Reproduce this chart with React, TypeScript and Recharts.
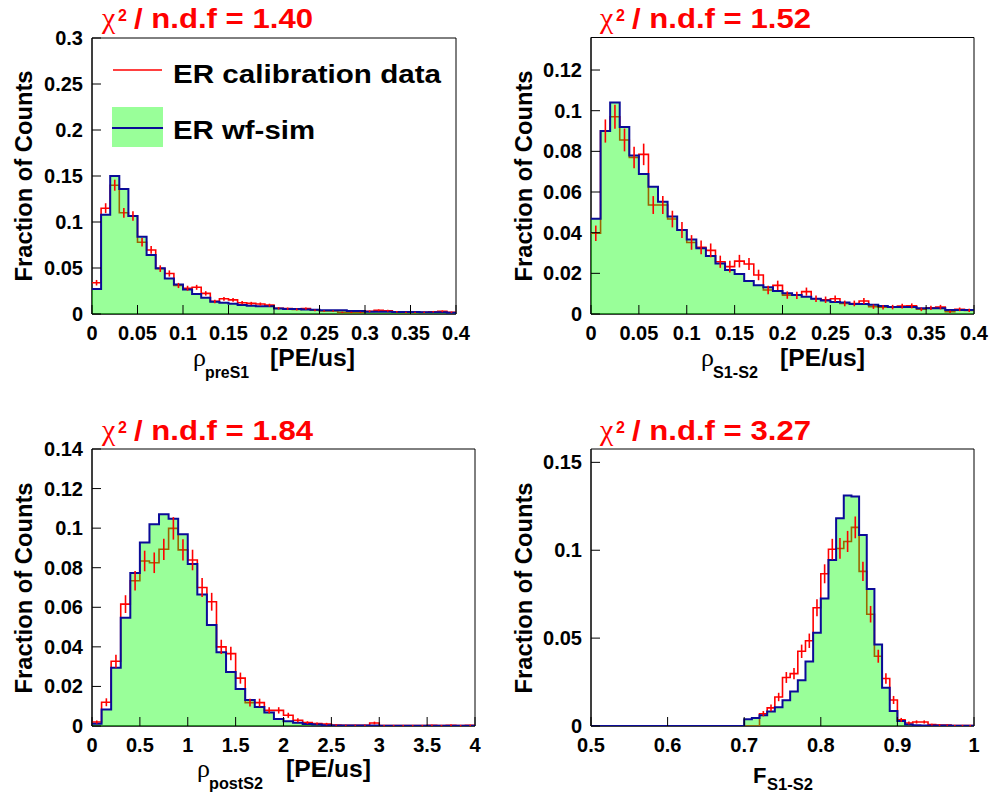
import {
  ComposedChart,
  Area,
  Line,
  Scatter,
  ErrorBar,
  XAxis,
  YAxis,
  ReferenceArea,
} from "recharts";

const FONT = "'Liberation Sans', Arial, Helvetica, sans-serif";
const SERIF = "'Liberation Serif', 'Times New Roman', serif";
const RED = "#ff0000";
const BLUE = "#0b0b98";
const GREEN = "#00ff00";

// rho_preS1: 40 bins, 0 - 0.4 PE/us
const preS1Data = [
  0.034, 0.115, 0.14, 0.11, 0.1065, 0.078, 0.0696, 0.0493, 0.044, 0.031,
  0.028, 0.029, 0.0224, 0.0137, 0.0165, 0.0154, 0.0123, 0.0115, 0.0108, 0.0096,
  0.0062, 0.0058, 0.005, 0.0058, 0.004, 0.0033, 0.0033, 0.0018, 0.0018, 0.0018,
  0.0029, 0.004, 0.0036, 0.0025, 0.0018, 0.0018, 0.0018, 0.0025, 0.0029, 0.0018,
];
const preS1Err = [
  0.003, 0.0054, 0.006, 0.0053, 0.0052, 0.0045, 0.0042, 0.0036, 0.0034, 0.0028,
  0.0027, 0.0027, 0.0024, 0.0019, 0.0021, 0.002, 0.0018, 0.0017, 0.0017, 0.0016,
  0.0013, 0.0012, 0.0011, 0.0012, 0.001, 0.0009, 0.0009, 0.0007, 0.0007, 0.0007,
  0.0009, 0.001, 0.001, 0.0008, 0.0007, 0.0007, 0.0007, 0.0008, 0.0009, 0.0007,
];
const preS1Sim = [
  0.0272, 0.108, 0.15, 0.136, 0.1065, 0.084, 0.064, 0.0496, 0.0386, 0.032,
  0.0266, 0.0217, 0.0177, 0.0133, 0.0123, 0.0112, 0.0097, 0.009, 0.0084, 0.0084,
  0.006, 0.0054, 0.0054, 0.005, 0.0047, 0.004, 0.004, 0.004, 0.0033, 0.0033,
  0.0025, 0.0025, 0.0025, 0.0022, 0.0022, 0.0022, 0.0018, 0.0018, 0.0018, 0.0014,
];
const preS1XTicks = [0, 0.05, 0.1, 0.15, 0.2, 0.25, 0.3, 0.35, 0.4];
const preS1YTicks = [0, 0.05, 0.1, 0.15, 0.2, 0.25, 0.3];

// rho_S1-S2: 40 bins, 0 - 0.4 PE/us
const s1s2Data = [
  0.0397, 0.09, 0.097, 0.0856, 0.077, 0.0785, 0.0536, 0.0536, 0.0467, 0.0413,
  0.0352, 0.0328, 0.0313, 0.0257, 0.0233, 0.026, 0.0246, 0.0192, 0.0118, 0.0141,
  0.0093, 0.0092, 0.011, 0.0075, 0.007, 0.0075, 0.0052, 0.0052, 0.0064, 0.0036,
  0.0033, 0.0034, 0.0039, 0.004, 0.0023, 0.003, 0.0034, 0.0011, 0.0023, 0.0018,
];
const s1s2Err = [
  0.0038, 0.0057, 0.0059, 0.0056, 0.0053, 0.0053, 0.0044, 0.0044, 0.0041, 0.0039,
  0.0036, 0.0034, 0.0034, 0.003, 0.0029, 0.0031, 0.003, 0.0026, 0.0021, 0.0023,
  0.0018, 0.0018, 0.002, 0.0016, 0.0016, 0.0016, 0.0014, 0.0014, 0.0015, 0.0011,
  0.0011, 0.0011, 0.0012, 0.0012, 0.0009, 0.001, 0.0011, 0.0006, 0.0009, 0.0008,
];
const s1s2Sim = [
  0.0469, 0.09, 0.104, 0.092, 0.078, 0.0689, 0.0626, 0.0552, 0.0479, 0.0413,
  0.0367, 0.0323, 0.0285, 0.0249, 0.0216, 0.0197, 0.0162, 0.0141, 0.0131, 0.0113,
  0.0102, 0.0093, 0.0085, 0.0075, 0.0067, 0.0059, 0.0056, 0.0049, 0.0049, 0.0046,
  0.0039, 0.0034, 0.0034, 0.0034, 0.0028, 0.0028, 0.0028, 0.002, 0.002, 0.002,
];
const s1s2XTicks = [0, 0.05, 0.1, 0.15, 0.2, 0.25, 0.3, 0.35, 0.4];
const s1s2YTicks = [0, 0.02, 0.04, 0.06, 0.08, 0.1, 0.12];

// rho_postS2: 40 bins, 0 - 4 PE/us
const postS2Data = [
  0.002, 0.012, 0.0327, 0.0616, 0.0734, 0.0834, 0.0825, 0.0893, 0.0999, 0.089,
  0.0839, 0.07, 0.0628, 0.04, 0.0366, 0.0242, 0.0118, 0.0118, 0.0079, 0.0079,
  0.0054, 0.0029, 0.0017, 0.0012, 0.001, 0.0005, 0.0003, 0.0003, 0.0003, 0.0015,
  0.0002, 0.0002, 0.0002, 0.0002, 0.0002, 0.0003, 0.0002, 0.0004, 0.0002, 0.0003,
];
const postS2Err = [
  0.0008, 0.002, 0.0033, 0.0045, 0.0049, 0.0052, 0.0052, 0.0054, 0.0057, 0.0054,
  0.0052, 0.0048, 0.0045, 0.0036, 0.0034, 0.0028, 0.002, 0.002, 0.0016, 0.0016,
  0.0013, 0.001, 0.0007, 0.0006, 0.0006, 0.0004, 0.0003, 0.0003, 0.0003, 0.0007,
  0.0003, 0.0003, 0.0003, 0.0003, 0.0003, 0.0003, 0.0003, 0.0004, 0.0003, 0.0003,
];
const postS2Sim = [
  0.0012, 0.0084, 0.0294, 0.0547, 0.0773, 0.0927, 0.102, 0.107, 0.1047, 0.0969,
  0.0819, 0.0665, 0.0511, 0.0373, 0.0273, 0.0187, 0.0132, 0.0096, 0.0068, 0.0035,
  0.0024, 0.0017, 0.001, 0.0007, 0.0004, 0.0003, 0.0003, 0.0002, 0.0002, 0.0002,
  0.0001, 0.0001, 0.0001, 0.0001, 0.0001, 0.0001, 0.0001, 0.0001, 0.0001, 0.0001,
];
const postS2XTicks = [0, 0.5, 1, 1.5, 2, 2.5, 3, 3.5, 4];
const postS2YTicks = [0, 0.02, 0.04, 0.06, 0.08, 0.1, 0.12, 0.14];

// F_S1-S2: 50 bins, 0.5 - 1
const fData = [
  0, 0, 0, 0, 0, 0, 0, 0, 0, 0,
  0, 0, 0, 0, 0, 0, 0, 0, 0, 0,
  0, 0, 0.007, 0.0103, 0.0165, 0.0276, 0.0298, 0.0425, 0.0485, 0.0673,
  0.0866, 0.1006, 0.101, 0.105, 0.113, 0.088, 0.0636, 0.0397, 0.027, 0.0148,
  0.0035, 0.0017, 0.0023, 0.0023, 0.0008, 0.0006, 0.0005, 0.0003, 0.0003, 0.0002,
];
const fErr = [
  0, 0, 0, 0, 0, 0, 0, 0, 0, 0,
  0, 0, 0, 0, 0, 0, 0, 0, 0, 0,
  0, 0, 0.0015, 0.0019, 0.0024, 0.0031, 0.0032, 0.0038, 0.0041, 0.0048,
  0.0054, 0.0059, 0.0059, 0.006, 0.0062, 0.0055, 0.0047, 0.0037, 0.003, 0.0023,
  0.0011, 0.0008, 0.0009, 0.0009, 0.0005, 0.0005, 0.0004, 0.0003, 0.0003, 0.0003,
];
const fSim = [
  0, 0, 0, 0, 0, 0, 0, 0, 0, 0,
  0, 0, 0, 0, 0, 0, 0, 0, 0, 0,
  0.0038, 0.0046, 0.0061, 0.0082, 0.0106, 0.0146, 0.0196, 0.026, 0.0367, 0.053,
  0.0726, 0.0945, 0.1182, 0.1312, 0.1306, 0.1086, 0.078, 0.0463, 0.0218, 0.0086,
  0.0028, 0.0009, 0.0004, 0.0003, 0.0003, 0.0003, 0.0003, 0.0002, 0.0002, 0.0002,
];
const fXTicks = [0.5, 0.6, 0.7, 0.8, 0.9, 1];
const fYTicks = [0, 0.05, 0.1, 0.15];

const fmt = (v: number) => String(+v.toFixed(3));

/** step points at bin edges, last bin repeated so the step closes at the right edge */
function edgePoints(lo: number, w: number, vals: number[]) {
  const pts = vals.map((v, i) => ({ x: lo + i * w, y: v }));
  pts.push({ x: lo + vals.length * w, y: vals[vals.length - 1] });
  return pts;
}

function centerPoints(lo: number, w: number, vals: number[], errs: number[]) {
  return vals
    .map((v, i) => ({ x: lo + (i + 0.5) * w, y: v, e: errs[i] }))
    .filter((p) => p.y > 0);
}

function XTick(props: any) {
  const { x, payload, plotBottom } = props;
  return (
    <g>
      <line x1={x} x2={x} y1={plotBottom} y2={plotBottom - 9} stroke="#000" />
      <text
        x={x}
        y={plotBottom + 26}
        textAnchor="middle"
        fontFamily={FONT}
        fontWeight="bold"
        fontSize={20}
        fill="#000"
      >
        {fmt(payload.value)}
      </text>
    </g>
  );
}

function YTick(props: any) {
  const { y, payload, plotLeft } = props;
  return (
    <g>
      <line x1={plotLeft} x2={plotLeft + 9} y1={y} y2={y} stroke="#000" />
      <text
        x={plotLeft - 9}
        y={y + 7}
        textAnchor="end"
        fontFamily={FONT}
        fontWeight="bold"
        fontSize={20}
        fill="#000"
      >
        {fmt(payload.value)}
      </text>
    </g>
  );
}

const NoDot = () => <g />;

interface PanelProps {
  left: number;
  top: number;
  width: number;
  height: number;
  plotLeft: number;
  plotTop: number;
  plotRight: number;
  plotBottom: number;
  lo: number;
  hi: number;
  yMax: number;
  xTicks: number[];
  yTicks: number[];
  data: number[];
  err: number[];
  sim: number[];
}

function Panel(p: PanelProps) {
  const w = (p.hi - p.lo) / p.data.length;
  const dataEdges = edgePoints(p.lo, w, p.data);
  const simEdges = edgePoints(p.lo, w, p.sim);
  const dataCenters = centerPoints(p.lo, w, p.data, p.err);

  return (
    <div style={{ position: "absolute", left: p.left, top: p.top }}>
      <ComposedChart
        width={p.width}
        height={p.height}
        margin={{ top: p.plotTop, right: p.width - p.plotRight, bottom: 0, left: 0 }}
      >
        <XAxis
          type="number"
          dataKey="x"
          domain={[p.lo, p.hi]}
          ticks={p.xTicks}
          interval={0}
          allowDataOverflow
          height={p.height - p.plotBottom}
          axisLine={{ stroke: "#000" }}
          tickLine={false}
          tick={<XTick plotBottom={p.plotBottom} />}
          zIndex={50}
        />
        <YAxis
          type="number"
          domain={[0, p.yMax]}
          ticks={p.yTicks}
          interval={0}
          allowDataOverflow
          width={p.plotLeft}
          axisLine={{ stroke: "#000" }}
          tickLine={false}
          tick={<YTick plotLeft={p.plotLeft} />}
          zIndex={50}
        />
        <ReferenceArea
          x1={p.lo}
          x2={p.hi}
          y1={0}
          y2={p.yMax}
          fill="none"
          stroke="#000"
          strokeWidth={1}
          ifOverflow="visible"
          zIndex={60}
        />
        <Line
          data={dataEdges}
          dataKey="y"
          type="stepAfter"
          stroke={RED}
          strokeWidth={1.6}
          dot={false}
          isAnimationActive={false}
          zIndex={100}
        />
        <Scatter
          data={dataCenters}
          dataKey="y"
          shape={NoDot}
          isAnimationActive={false}
          zIndex={110}
        >
          <ErrorBar
            dataKey="e"
            direction="y"
            width={0}
            stroke={RED}
            strokeWidth={1.6}
            isAnimationActive={false}
          />
        </Scatter>
        <Area
          data={simEdges}
          dataKey="y"
          type="stepAfter"
          fill={GREEN}
          fillOpacity={0.4}
          stroke="none"
          isAnimationActive={false}
          zIndex={200}
        />
        <Line
          data={simEdges}
          dataKey="y"
          type="stepAfter"
          stroke={BLUE}
          strokeWidth={2}
          dot={false}
          isAnimationActive={false}
          zIndex={300}
        />
      </ComposedChart>
    </div>
  );
}

function Title({ x, y, value }: { x: number; y: number; value: string }) {
  return (
    <g fill={RED}>
      <text x={x} y={y} fontFamily={SERIF} fontSize={30}>
        χ
      </text>
      <text x={x + 16} y={y - 7} fontFamily={FONT} fontWeight="bold" fontSize={16}>
        2
      </text>
      <text
        x={x + 32}
        y={y}
        fontFamily={FONT}
        fontWeight="bold"
        fontSize={28}
        textLength={179}
        lengthAdjust="spacingAndGlyphs"
      >
        {`/ n.d.f = ${value}`}
      </text>
    </g>
  );
}

function YTitle({ x, cy }: { x: number; cy: number }) {
  return (
    <text
      transform="rotate(-90)"
      x={-cy}
      y={x}
      textAnchor="middle"
      fontFamily={FONT}
      fontWeight="bold"
      fontSize={24}
      textLength={211}
      lengthAdjust="spacingAndGlyphs"
    >
      Fraction of Counts
    </text>
  );
}

function RhoTitle({ x, y, sub, subW, unitX }: { x: number; y: number; sub: string; subW: number; unitX: number }) {
  return (
    <g>
      <text x={x} y={y} fontFamily={SERIF} fontSize={26}>
        ρ
      </text>
      <text
        x={x + 12}
        y={y + 12}
        fontFamily={FONT}
        fontWeight="bold"
        fontSize={16}
        textLength={subW}
        lengthAdjust="spacingAndGlyphs"
      >
        {sub}
      </text>
      <text
        x={unitX}
        y={y}
        fontFamily={FONT}
        fontWeight="bold"
        fontSize={23}
        textLength={85}
        lengthAdjust="spacingAndGlyphs"
      >
        [PE/us]
      </text>
    </g>
  );
}

export default function App() {
  return (
    <div
      style={{
        position: "absolute",
        left: 0,
        top: 0,
        width: 989,
        height: 801,
        background: "#fff",
        overflow: "hidden",
      }}
    >
      <Panel
        left={0} top={0} width={490} height={400}
        plotLeft={92} plotTop={38} plotRight={456} plotBottom={314}
        lo={0} hi={0.4} yMax={0.3}
        xTicks={preS1XTicks} yTicks={preS1YTicks}
        data={preS1Data} err={preS1Err} sim={preS1Sim}
      />
      <Panel
        left={500} top={0} width={489} height={400}
        plotLeft={91} plotTop={37.5} plotRight={474} plotBottom={314}
        lo={0} hi={0.4} yMax={0.136}
        xTicks={s1s2XTicks} yTicks={s1s2YTicks}
        data={s1s2Data} err={s1s2Err} sim={s1s2Sim}
      />
      <Panel
        left={0} top={410} width={490} height={391}
        plotLeft={92} plotTop={39} plotRight={475} plotBottom={316}
        lo={0} hi={4} yMax={0.14}
        xTicks={postS2XTicks} yTicks={postS2YTicks}
        data={postS2Data} err={postS2Err} sim={postS2Sim}
      />
      <Panel
        left={500} top={410} width={489} height={391}
        plotLeft={91} plotTop={39} plotRight={474} plotBottom={316}
        lo={0.5} hi={1} yMax={0.1576}
        xTicks={fXTicks} yTicks={fYTicks}
        data={fData} err={fErr} sim={fSim}
      />

      <svg
        width={989}
        height={801}
        style={{ position: "absolute", left: 0, top: 0, pointerEvents: "none" }}
      >
        <Title x={102} y={28} value="1.40" />
        <Title x={600} y={28} value="1.52" />
        <Title x={102} y={440} value="1.84" />
        <Title x={600} y={440} value="3.27" />

        <YTitle x={32} cy={176} />
        <YTitle x={532} cy={176} />
        <YTitle x={32} cy={588} />
        <YTitle x={532} cy={588} />

        <RhoTitle x={193} y={366} sub="preS1" subW={44} unitX={270} />
        <RhoTitle x={701} y={366} sub="S1-S2" subW={45} unitX={780} />
        <RhoTitle x={197} y={777} sub="postS2" subW={54} unitX={286} />
        <g>
          <text x={753} y={783} fontFamily={FONT} fontWeight="bold" fontSize={22}>
            F
          </text>
          <text
            x={767}
            y={790}
            fontFamily={FONT}
            fontWeight="bold"
            fontSize={16}
            textLength={46}
            lengthAdjust="spacingAndGlyphs"
          >
            S1-S2
          </text>
        </g>

        {/* legend, top-left panel */}
        <line x1={113} x2={162} y1={70} y2={70} stroke={RED} strokeWidth={1.5} />
        <text
          x={173} y={83}
          fontFamily={FONT} fontWeight="bold" fontSize={26}
          textLength={268} lengthAdjust="spacingAndGlyphs"
        >
          ER calibration data
        </text>
        <rect x={112} y={107} width={51} height={40} fill={GREEN} fillOpacity={0.4} />
        <line x1={112} x2={163} y1={128} y2={128} stroke={BLUE} strokeWidth={2} />
        <text
          x={173} y={139}
          fontFamily={FONT} fontWeight="bold" fontSize={26}
          textLength={142} lengthAdjust="spacingAndGlyphs"
        >
          ER wf-sim
        </text>
      </svg>
    </div>
  );
}
